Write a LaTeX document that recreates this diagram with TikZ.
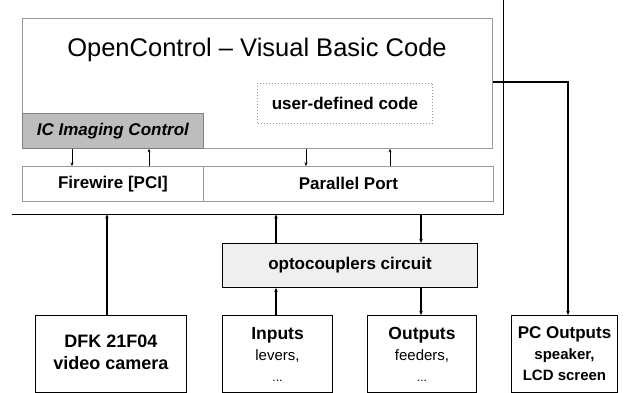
\documentclass[tikz,border=0pt]{standalone}
\usepackage{fontspec}
\setmainfont{Liberation Sans}
\usetikzlibrary{arrows.meta}
\definecolor{edgegray}{HTML}{9A9A9A}
\definecolor{icfill}{HTML}{BDBDBD}
\definecolor{optofill}{HTML}{EFEFEF}
\tikzset{
  plainbox/.style={draw=edgegray, line width=0.8pt, anchor=north west, inner sep=0pt},
  blackbox/.style={draw=black, line width=1pt, anchor=north west, inner sep=0pt, fill=white},
  lbl/.style={font=\fontsize{17}{21}\selectfont\bfseries, align=center, inner sep=0pt},
  arr/.style={-{Stealth[length=4pt,width=3.5pt]}, line width=1.4pt},
  sarr/.style={-{Stealth[length=3.5pt,width=3pt]}, line width=0.9pt},
  outerline/.style={line width=1.2pt}
}
\begin{document}
\begin{tikzpicture}[x=1pt,y=-1pt]
\useasboundingbox (0,0) rectangle (633,393);
\fill[white] (0,0) rectangle (633,393);
% PC frame (only right and bottom edges visible)
\node[anchor=north west, minimum width=491pt, minimum height=214pt, inner sep=0pt] (pc) at (12,0) {};
% OpenControl box
\node[plainbox, minimum width=470pt, minimum height=130pt] (oc) at (22,18) {};
\node[font=\fontsize{25.5}{30}\selectfont, inner sep=0pt] (title) at (257,50) {OpenControl – Visual Basic Code};
% user-defined code
\node[draw=edgegray, dotted, line width=1pt, anchor=north west, minimum width=175pt, minimum height=40pt, inner sep=0pt] (udc) at (257,83) {};
\node[lbl] (udct) at (udc.center) {user-defined code};
% IC Imaging Control
\node[plainbox, draw=gray, fill=icfill, minimum width=181pt, minimum height=35pt] (ic) at (22,113) {};
\node[lbl, font=\fontsize{17}{21}\selectfont\bfseries\itshape] (ict) at (ic.center) {IC Imaging Control};
% Firewire & Parallel Port
\node[plainbox, minimum width=181pt, minimum height=35pt] (fw) at (22,166) {};
\node[lbl] (fwt) at (fw.center) {Firewire [PCI]};
\node[plainbox, minimum width=290pt, minimum height=35pt] (pp) at (203,166) {};
\node[lbl] (ppt) at (pp.center) {Parallel Port};
% outer frame lines
\draw[outerline] (pc.south west) -- (pc.south east) -- (pc.north east);
% small arrows
\draw[sarr] ([xshift=50pt]ic.south west) -- ([xshift=50pt]fw.north west);
\draw[sarr] ([xshift=127pt]fw.north west) -- ([xshift=127pt]ic.south west);
\draw[sarr] ([xshift=103pt]pp.north west |- oc.south) -- ([xshift=103pt]pp.north west);
\draw[sarr] ([xshift=187pt]pp.north west) -- ([xshift=187pt]pp.north west |- oc.south);
% optocouplers
\node[blackbox, fill=optofill, minimum width=255pt, minimum height=44pt] (opto) at (222,243) {};
\node[lbl] (optot) at (opto.center) {optocouplers circuit};
% bottom boxes
\node[blackbox, minimum width=151pt, minimum height=77pt] (dfk) at (35,315) {};
\node[lbl, font=\fontsize{18}{22}\selectfont\bfseries, yshift=2pt] (dfkt) at (dfk.center) {DFK 21F04\\video camera};
\node[blackbox, minimum width=110pt, minimum height=77pt] (inp) at (222,315) {};
\node[lbl, font=\fontsize{17.5}{21}\selectfont\bfseries] (inpt) at (inp.center) {Inputs\\{\fontsize{15}{21}\selectfont\mdseries levers,}\\{\fontsize{12}{21}\selectfont\mdseries ...}};
\node[blackbox, minimum width=109pt, minimum height=77pt] (outp) at (367,315) {};
\node[lbl, font=\fontsize{17.5}{21}\selectfont\bfseries] (outpt) at (outp.center) {Outputs\\{\fontsize{15}{21}\selectfont\mdseries feeders,}\\{\fontsize{12}{21}\selectfont\mdseries ...}};
\node[blackbox, minimum width=106pt, minimum height=77pt] (pco) at (511,315) {};
\node[lbl] (pcot) at (pco.center) {PC Outputs\\{\fontsize{15}{21}\selectfont speaker,}\\{\fontsize{15}{21}\selectfont LCD screen}};
% connectors
\draw[arr] ([xshift=72pt]dfk.north west) -- ([xshift=72pt]dfk.north west |- pc.south);
\draw[arr] ([xshift=54pt]opto.north west) -- ([xshift=54pt]opto.north west |- pc.south);
\draw[arr] ([xshift=199pt]opto.north west |- pc.south) -- ([xshift=199pt]opto.north west);
\draw[arr] ([xshift=54pt]inp.north west) -- ([xshift=54pt]inp.north west |- opto.south);
\draw[arr] ([xshift=199pt]opto.south west) -- ([xshift=199pt]opto.south west |- outp.north);
\coordinate (bend) at ([xshift=57pt]pco.north west |- 0,82);
\draw[arr] (oc.east |- bend) -- (bend) -- ([xshift=57pt]pco.north west);
\end{tikzpicture}
\end{document}
